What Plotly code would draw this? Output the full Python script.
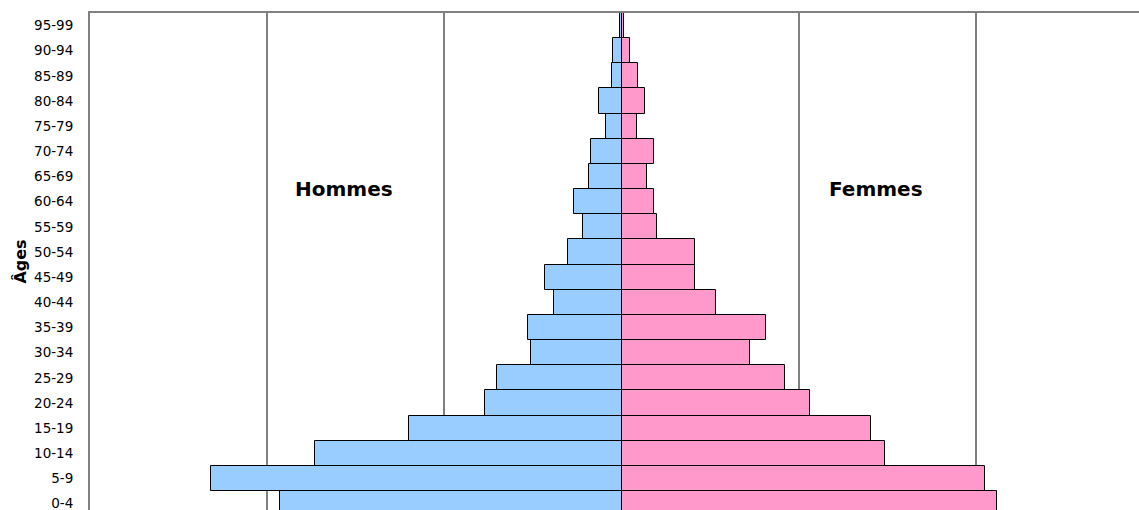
import plotly.graph_objects as go

age_groups = ["0-4", "5-9", "10-14", "15-19", "20-24", "25-29", "30-34", "35-39",
              "40-44", "45-49", "50-54", "55-59", "60-64", "65-69", "70-74",
              "75-79", "80-84", "85-89", "90-94", "95-99"]
hommes = [7.70, 9.26, 6.92, 4.79, 3.08, 2.82, 2.05, 2.11, 1.52, 1.73, 1.21,
          0.87, 1.08, 0.74, 0.68, 0.35, 0.50, 0.22, 0.20, 0.03]
femmes = [8.48, 8.21, 5.95, 5.64, 4.26, 3.69, 2.89, 3.26, 2.12, 1.66, 1.66,
          0.80, 0.73, 0.58, 0.73, 0.34, 0.52, 0.37, 0.19, 0.05]
grid_vals = [-12, -8, -4, 0, 4, 8]

FONT = "DejaVu Sans"

fig = go.Figure()
fig.add_trace(go.Bar(
    y=age_groups, x=[-v for v in hommes], orientation="h", name="Hommes",
    marker=dict(color="#99CCFF", line=dict(color="#000000", width=1)),
    customdata=hommes, hovertemplate="%{y}: %{customdata}%<extra>Hommes</extra>",
))
fig.add_trace(go.Bar(
    y=age_groups, x=femmes, orientation="h", name="Femmes",
    marker=dict(color="#FF99CC", line=dict(color="#000000", width=1)),
    hovertemplate="%{y}: %{x}%<extra>Femmes</extra>",
))

fig.update_layout(
    width=1139, height=510,
    margin=dict(l=90, r=0, t=13, b=0),
    barmode="relative", bargap=0,
    plot_bgcolor="white", paper_bgcolor="white",
    showlegend=False,
    font=dict(family=FONT, color="black", size=13.5),
    xaxis=dict(
        range=[-12, 11.68], tickvals=grid_vals, showticklabels=False,
        showgrid=True, gridcolor="#808080", gridwidth=2,
        zeroline=False, side="top", showline=True, linecolor="#808080",
        linewidth=2, ticks="",
    ),
    yaxis=dict(
        type="category", categoryorder="array", categoryarray=age_groups,
        range=[-0.253, 19.5], showgrid=False, zeroline=False,
        showline=True, linecolor="#808080", linewidth=2,
        ticks="outside", ticklen=12, tickcolor="rgba(0,0,0,0)",
        tickfont=dict(family=FONT, size=13.5, color="black"),
        title=dict(text="<b>Âges</b>", font=dict(family=FONT, size=16, color="black"),
                   standoff=3),
    ),
    annotations=[
        dict(x=-6.27, y=12.5, xref="x", yref="y", text="<b>Hommes</b>", showarrow=False,
             font=dict(family=FONT, size=20, color="black")),
        dict(x=5.74, y=12.5, xref="x", yref="y", text="<b>Femmes</b>", showarrow=False,
             font=dict(family=FONT, size=20, color="black")),
    ],
)

fig.write_html("out.html")
